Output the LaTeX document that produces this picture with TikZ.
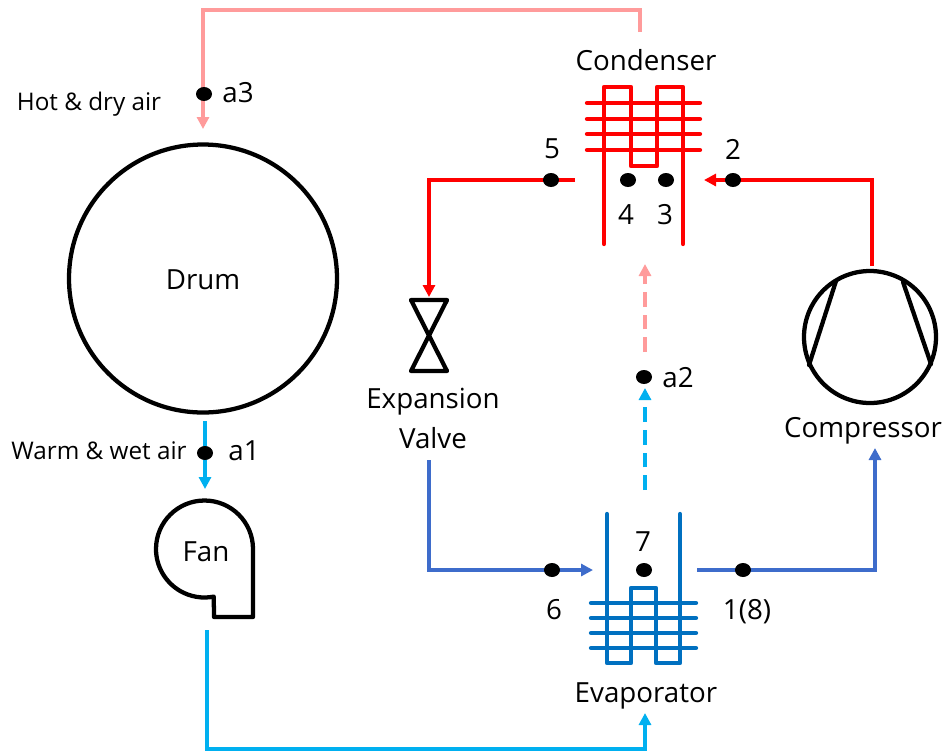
\documentclass[tikz,border=0pt]{standalone}
\usepackage{fontspec}
\setmainfont{Open Sans}
\usetikzlibrary{arrows.meta,shapes.geometric}
\definecolor{redc}{HTML}{FF0000}
\definecolor{pinkc}{HTML}{FF9B9B}
\definecolor{cyanc}{HTML}{00B0F0}
\definecolor{bluec}{HTML}{3E6CCB}
\definecolor{evapc}{HTML}{0070C0}
\tikzset{
  x=0.75pt,y=-0.75pt,
  flow/.style={line width=2.6pt,line join=miter,-{Triangle[length=9pt,width=9pt]}},
  dashflow/.style={flow,dash pattern=on 11pt off 6pt},
  coil/.style={line width=3.2pt,line cap=round,line join=round},
  sym/.style={line width=3.2pt,draw=black,line join=round,line cap=round},
  pt/.style={ellipse,fill=black,minimum width=12pt,minimum height=10.5pt,inner sep=0pt},
  lbl/.style={font=\fontsize{20.8}{24}\selectfont,inner sep=0pt,align=center},
  sml/.style={font=\fontsize{18.2}{22}\selectfont,inner sep=0pt},
}
\begin{document}
\begin{tikzpicture}
\useasboundingbox (0,0) rectangle (945,751);
% coordinates
\coordinate (condOut) at (640,32);
\coordinate (pinkA) at (640,10);
\coordinate (pinkB) at (203,10);
\coordinate (drumTop) at (203,129);
\coordinate (compTop) at (872,266);
\coordinate (cmpCorner) at (872,180);
\coordinate (condIn) at (704,180);
\coordinate (condLeft) at (575,180);
\coordinate (valveCorner) at (429,180);
\coordinate (valveTop) at (429,297);
\coordinate (valveLow) at (429,460);
\coordinate (evCorner) at (429,570);
\coordinate (evIn) at (593,570);
\coordinate (evOut) at (697,570);
\coordinate (compCorner) at (875,570);
\coordinate (compIn) at (875,448);
\coordinate (dash1) at (645,490);
\coordinate (dash1e) at (645,388);
\coordinate (dash2) at (645,352);
\coordinate (dash2e) at (645,264);
\coordinate (drumLow) at (205,421);
\coordinate (fanTop) at (205,489);
\coordinate (fanLow) at (207,630);
\coordinate (ductA) at (207,749);
\coordinate (ductB) at (645,749);
\coordinate (evapLow) at (645,713);
% air loop
\draw[flow,draw=pinkc] (condOut) -- (pinkA) -- (pinkB) -- (drumTop);
\draw[flow,draw=cyanc] (drumLow) -- (fanTop);
\draw[flow,draw=cyanc] (fanLow) -- (ductA) -- (ductB) -- (evapLow);
\draw[dashflow,draw=cyanc] (dash1) -- (dash1e);
\draw[dashflow,draw=pinkc] (dash2) -- (dash2e);
% refrigerant loop
\draw[flow,draw=redc] (compTop) -- (cmpCorner) -- (condIn);
\draw[flow,draw=redc] (condLeft) -- (valveCorner) -- (valveTop);
\draw[flow,draw=bluec] (valveLow) -- (evCorner) -- (evIn);
\draw[flow,draw=bluec] (evOut) -- (compCorner) -- (compIn);
% condenser
\draw[coil,draw=redc] (604,244) -- (604,87) -- (631,87) -- (631,166) -- (657,166) -- (657,87) -- (683,87) -- (683,244);
\foreach \y in {103,119,134,150} \draw[coil,draw=redc] (587,\y) -- (700,\y);
% evaporator
\draw[coil,draw=evapc] (607,514) -- (607,663) -- (631,663) -- (631,588) -- (656,588) -- (656,663) -- (680,663) -- (680,514);
\foreach \y in {603,618,633,648} \draw[coil,draw=evapc] (591,\y) -- (696,\y);
% drum
\node[circle,draw=black,line width=3.2pt,minimum size=201pt,inner sep=0pt] (drum) at (203,278.5) {};
\node[lbl] (drumL) at (203,280) {Drum};
% fan
\draw[sym] (253,549) arc[start angle=0,end angle=-281,radius=48.5] -- (214,617) -- (253,617) -- cycle;
\node[lbl] (fanL) at (206,552) {Fan};
% valve
\draw[sym] (411,300) -- (447,300) -- (411,371) -- (447,371) -- cycle;
% compressor
\node[circle,draw=black,line width=3.2pt,minimum size=99pt,inner sep=0pt] (comp) at (870,337) {};
\draw[sym] (836,281) -- (809,365);
\draw[sym] (903,282) -- (931,364);
% points
\node[pt] (pa3) at (204,94) {};
\node[pt] (pa1) at (205,453) {};
\node[pt] (pa2) at (644,377) {};
\node[pt] (p5) at (551,180) {};
\node[pt] (p4) at (628,180) {};
\node[pt] (p3) at (666,180) {};
\node[pt] (p2) at (733,180) {};
\node[pt] (p6) at (552,570) {};
\node[pt] (p7) at (644,570) {};
\node[pt] (p1) at (743,570) {};
% labels
\node[lbl] (lcond) at (646,60) {Condenser};
\node[lbl] (l5) at (552,149) {5};
\node[lbl] (l2) at (733,149) {2};
\node[lbl] (l4) at (626,215) {4};
\node[lbl] (l3) at (665,215) {3};
\node[lbl] (lexp) at (433,402) {Expansion};
\node[lbl] (lval) at (433,438) {Valve};
\node[lbl] (la2) at (678,378) {a2};
\node[lbl] (lcomp) at (863,431) {Compressor};
\node[lbl] (l7) at (643,542) {7};
\node[lbl] (l6) at (554,610) {6};
\node[lbl] (l1) at (747,612) {1(8)};
\node[lbl] (levap) at (646,696) {Evaporator};
\node[sml] (lwarm) at (99,451) {Warm \& wet air};
\node[lbl] (la1) at (244,451) {a1};
\node[sml] (lhot) at (89,104) {Hot \& dry air};
\node[lbl] (la3) at (238,93) {a3};
\end{tikzpicture}
\end{document}
